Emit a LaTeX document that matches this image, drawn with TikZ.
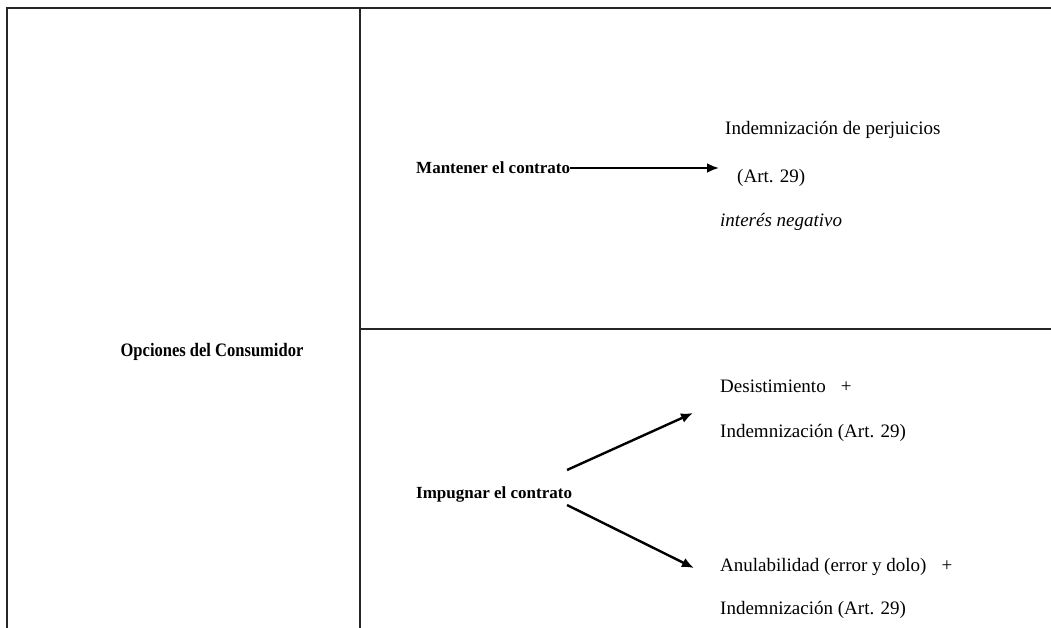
\documentclass[tikz,border=0pt]{standalone}
\usepackage{fontspec}
\setmainfont{Liberation Serif}
\newfontfamily\condserif[FakeStretch=0.87]{Liberation Serif}
\usetikzlibrary{arrows.meta}
\tikzset{
  rule/.style={line width=1.4pt,black!85},
  txt/.style={anchor=west,inner sep=0pt,font=\fontsize{19}{21}\selectfont},
  lbl/.style={anchor=west,inner sep=0pt,font=\fontsize{17}{19}\selectfont\bfseries},
  arr/.style={line width=2.4pt,-{Latex[length=12pt,width=10pt]}}
}
\begin{document}
\begin{tikzpicture}[x=1pt,y=-1pt]
\useasboundingbox (0,0) rectangle (1051,628);
%table lines
\draw[rule] (7,628)--(7,8)--(1051,8);
\draw[rule] (360,8)--(360,628);
\draw[rule] (360,329)--(1051,329);
\node[anchor=center,inner sep=0pt,font=\condserif\fontsize{19}{21}\selectfont\bfseries] (opc) at (212,352) {Opciones del Consumidor};
%upper row
\node[lbl] (mant) at (416,168) {Mantener el contrato};
\node[txt] (indem) at (725,130) {Indemnización de perjuicios};
\node[txt] (art) at (737,178) {(Art. 29)};
\node[txt,font=\fontsize{19}{21}\selectfont\itshape] (neg) at (720,222) {interés negativo};
\coordinate (mantEnd) at (719,168);
\draw[arr] (mant.east) -- (mantEnd);
%lower row
\node[lbl] (imp) at (416,494) {Impugnar el contrato};
\node[txt] (des) at (720,386) {Desistimiento\hspace{15pt}+};
\node[txt] (desInd) at (720,433) {Indemnización (Art. 29)};
\node[txt] (anu) at (720,567) {Anulabilidad (error y dolo)\hspace{15pt}+};
\node[txt] (anuInd) at (720,610) {Indemnización (Art. 29)};
\coordinate (upStart) at (567,470);
\coordinate (upEnd) at (693,413);
\coordinate (dnStart) at (567,505);
\coordinate (dnEnd) at (694,568);
\draw[arr] (upStart) -- (upEnd);
\draw[arr] (dnStart) -- (dnEnd);
\end{tikzpicture}
\end{document}
